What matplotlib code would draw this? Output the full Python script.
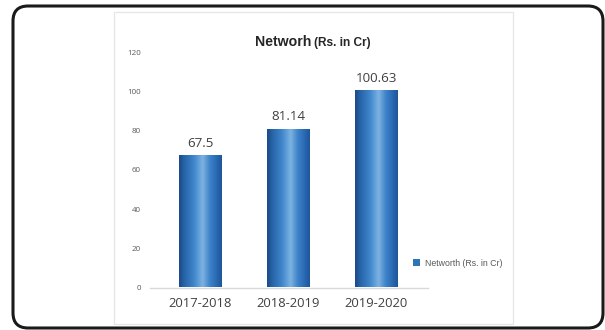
import matplotlib
matplotlib.use("Agg")
import matplotlib.pyplot as plt
import numpy as np
from matplotlib.colors import LinearSegmentedColormap
from matplotlib.patches import Patch, FancyBboxPatch, Rectangle

categories = ["2017-2018", "2018-2019", "2019-2020"]
values = [67.5, 81.14, 100.63]
value_labels = ["67.5", "81.14", "100.63"]
yticks = [0, 20, 40, 60, 80, 100, 120]
series_name = "Networth (Rs. in Cr)"

W, H = 605, 330
fig = plt.figure(figsize=(W / 100, H / 100), dpi=100)
fig.patch.set_facecolor("white")

def fx(px):
    return px / W

def fy(py):
    return (H - py) / H

# outer rounded frame
outer = FancyBboxPatch((fx(13), fy(328)), fx(603) - fx(13), fy(6) - fy(328),
                       boxstyle="round,pad=0,rounding_size=0.025",
                       transform=fig.transFigure, facecolor="none",
                       edgecolor="#1a1a1a", linewidth=2.2, zorder=-2,
                       mutation_aspect=W / H)
fig.patches.append(outer)
# inner chart frame
inner = Rectangle((fx(114), fy(324)), fx(513) - fx(114), fy(12) - fy(324),
                  transform=fig.transFigure, facecolor="none",
                  edgecolor="#e6e6e6", linewidth=0.9, zorder=-1)
fig.patches.append(inner)

ax = fig.add_axes([fx(150), fy(287.5), fx(428) - fx(150), fy(52.5) - fy(287.5)])
ax.set_facecolor("none")
ax.set_zorder(3)

x = np.arange(len(categories))
width = 0.48
bars = ax.bar(x, values, width=width, color="#2e75b6", zorder=2)

cmap = LinearSegmentedColormap.from_list("cyl", [
    (0.0, "#1b4a86"), (0.12, "#2763a8"), (0.35, "#3f86cc"),
    (0.55, "#7db3e2"), (0.72, "#3d83c9"), (0.9, "#2665ad"), (1.0, "#1f5597")])
grad = np.linspace(0, 1, 256).reshape(1, -1)
for b in bars:
    b.set_facecolor("none")
    x0 = b.get_x()
    x1 = x0 + b.get_width()
    im = ax.imshow(grad, cmap=cmap, extent=(x0, x1, 0, b.get_height()),
                   aspect="auto", zorder=2, interpolation="bicubic")
    im.set_clip_path(b)

for xi, v, lab in zip(x, values, value_labels):
    ax.annotate(lab, (xi, v), xytext=(0, 6.3), textcoords="offset points",
                ha="center", va="baseline", fontsize=9.6, color="#404040",
                family="Open Sans")

ax.set_xlim(-0.568, 2.59)
ax.set_ylim(0, 120)
ax.set_xticks(x)
ax.set_xticklabels(categories, fontsize=9.4, color="#404040", family="Open Sans")
ax.set_yticks(yticks)
ax.set_yticklabels([str(t) for t in yticks], fontsize=5.8, color="#595959",
                   family="Open Sans")
ax.tick_params(axis="both", length=0)
ax.tick_params(axis="x", pad=7)
ax.tick_params(axis="y", pad=6.5)
for s in ["top", "right", "left"]:
    ax.spines[s].set_visible(False)
ax.spines["bottom"].set_color("#d9d9d9")
ax.spines["bottom"].set_linewidth(1.0)
ax.spines["bottom"].set_zorder(1)

# title
fig.text(fx(311), fy(46), "Networh", ha="right", va="baseline",
         fontsize=10.2, fontweight="bold", color="#262626", family="Liberation Sans")
fig.text(fx(313.5), fy(46), "(Rs. in Cr)", ha="left", va="baseline",
         fontsize=8.6, fontweight="bold", color="#262626", family="Liberation Sans")

# legend
handle = Patch(facecolor="#2e75b6", edgecolor="none")
leg = fig.legend([handle], [series_name], loc="center left",
                 bbox_to_anchor=(fx(413), fy(263)), frameon=False,
                 handlelength=0.75, handleheight=0.75,
                 handletextpad=0.6, borderpad=0, borderaxespad=0,
                 prop={"family": "Liberation Sans", "size": 6.3})
for t in leg.get_texts():
    t.set_color("#595959")

fig.savefig("out.png", dpi=100, facecolor="white")
